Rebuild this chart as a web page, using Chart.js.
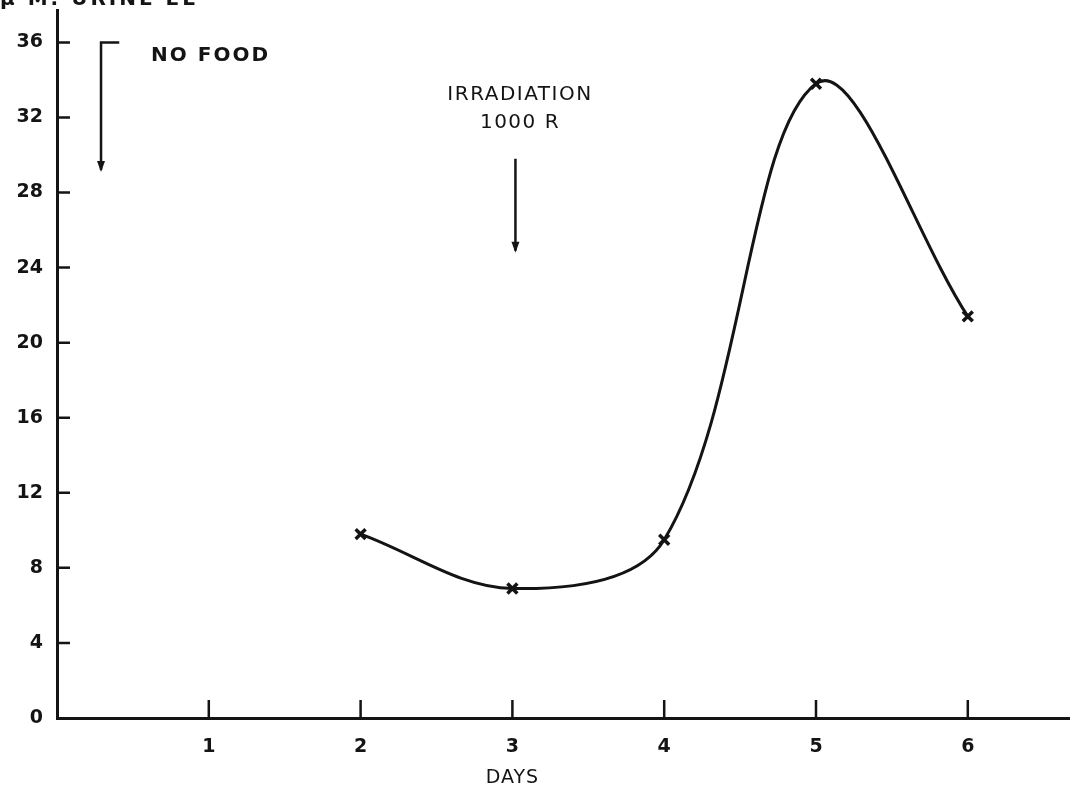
<!DOCTYPE html>
<html>
<head>
<meta charset="utf-8">
<script src="https://cdn.jsdelivr.net/npm/chart.js@4.4.1/dist/chart.umd.min.js"></script>
<style>
	html, body { margin: 0; padding: 0; background: #fff; }
	#wrap { width: 1080px; height: 793px; }
</style>
</head>
<body>
<div id="wrap"><canvas id="myChart" width="1080" height="793"></canvas></div>
<script>
// values
var days = [2, 3, 4, 5, 6];
var urine = [9.8, 6.9, 9.5, 33.8, 21.4];
var yTicks = [0, 4, 8, 12, 16, 20, 24, 28, 32, 36];
var xTicks = [1, 2, 3, 4, 5, 6];

var ink = "#141414";
var font = "'DejaVu Sans', 'Liberation Sans', sans-serif";

// short ticks pointing into the plot, plus the hand lettered notes
var paperPlugin = {
	id: "paper",
	afterDraw: function (chart) {
		var ctx = chart.ctx;
		var x = chart.scales.x;
		var y = chart.scales.y;
		var area = chart.chartArea;
		ctx.save();
		ctx.strokeStyle = ink;
		ctx.fillStyle = ink;
		ctx.lineWidth = 2.5;
		ctx.beginPath();
		yTicks.forEach(function (v) {
			if (v == 0) return;
			var py = y.getPixelForValue(v);
			ctx.moveTo(area.left, py);
			ctx.lineTo(area.left + 13, py);
		});
		xTicks.forEach(function (v) {
			var px = x.getPixelForValue(v);
			ctx.moveTo(px, area.bottom);
			ctx.lineTo(px, area.bottom - 18);
		});
		ctx.stroke();

		// NO FOOD bracket arrow
		ctx.lineWidth = 2.5;
		ctx.beginPath();
		ctx.moveTo(x.getPixelForValue(0.41), y.getPixelForValue(36));
		ctx.lineTo(x.getPixelForValue(0.29), y.getPixelForValue(36));
		ctx.lineTo(x.getPixelForValue(0.29), y.getPixelForValue(29.2));
		ctx.stroke();
		arrowHead(ctx, x.getPixelForValue(0.29), y.getPixelForValue(29.2));

		// irradiation arrow
		ctx.beginPath();
		ctx.moveTo(x.getPixelForValue(3.02), y.getPixelForValue(29.8));
		ctx.lineTo(x.getPixelForValue(3.02), y.getPixelForValue(24.9));
		ctx.stroke();
		arrowHead(ctx, x.getPixelForValue(3.02), y.getPixelForValue(24.9));

		ctx.font = "bold 20px " + font;
		ctx.letterSpacing = "2px";
		ctx.textBaseline = "middle";
		ctx.textAlign = "left";
		ctx.fillText("NO FOOD", x.getPixelForValue(0.62), y.getPixelForValue(35.3));
		ctx.textAlign = "center";
		ctx.font = "20px " + font;
		ctx.letterSpacing = "1.5px";
		ctx.fillText("IRRADIATION", x.getPixelForValue(3.05), y.getPixelForValue(33.2));
		ctx.fillText("1000 R", x.getPixelForValue(3.05), y.getPixelForValue(31.7));

		// x axis title, centred under day 3 as in the scan
		ctx.font = "19px " + font;
		ctx.letterSpacing = "1px";
		ctx.fillText("DAYS", x.getPixelForValue(3), 778);

		// axis title, cut off at the top edge of the scan
		ctx.font = "bold 20px " + font;
		ctx.letterSpacing = "3px";
		ctx.textAlign = "left";
		ctx.textBaseline = "alphabetic";
		ctx.fillText("\u03bc M. URINE EE", 0, 5);
		ctx.restore();
	}
};

function arrowHead(ctx, px, py) {
	ctx.beginPath();
	ctx.moveTo(px, py + 2);
	ctx.lineTo(px - 4, py - 9);
	ctx.lineTo(px + 4, py - 9);
	ctx.closePath();
	ctx.fill();
}

var ctx = document.getElementById("myChart").getContext("2d");
var myChart = new Chart(ctx, {
	type: "scatter",
	data: {
		datasets: [
			{
				data: days.map(function (d, i) {
					return { x: d, y: urine[i] };
				}),
				showLine: true,
				tension: 0.35,
				borderColor: ink,
				borderWidth: 3,
				pointStyle: "crossRot",
				pointRadius: 7,
				pointBorderWidth: 3.5,
				pointBorderColor: ink,
				pointBackgroundColor: ink,
			},
		],
	},
	options: {
		responsive: false,
		animation: false,
		layout: { padding: { top: 10, right: 5 } },
		plugins: {
			legend: { display: false },
			tooltip: { enabled: false },
		},
		scales: {
			x: {
				type: "linear",
				min: 0,
				max: 6.67,
				afterFit: function (scale) {
					scale.height = 75;
					scale.paddingLeft = 0;
					scale.paddingRight = 0;
				},
				afterBuildTicks: function (scale) {
					scale.ticks = xTicks.map(function (v) { return { value: v }; });
				},
				grid: { display: false, drawTicks: false },
				border: { display: true, color: ink, width: 3 },
				ticks: {
					padding: 18,
					color: ink,
					font: { family: font, size: 19, weight: "bold" },
				},
			},
			y: {
				min: 0,
				max: 37.7,
				afterFit: function (scale) {
					scale.width = 57;
					scale.paddingTop = 0;
					scale.paddingBottom = 0;
				},
				afterBuildTicks: function (scale) {
					scale.ticks = yTicks.map(function (v) { return { value: v }; });
				},
				grid: { display: false, drawTicks: false },
				border: { display: true, color: ink, width: 3 },
				ticks: {
					padding: 14,
					color: ink,
					font: { family: font, size: 19, weight: "bold" },
				},
			},
		},
	},
	plugins: [paperPlugin],
});
</script>
</body>
</html>
